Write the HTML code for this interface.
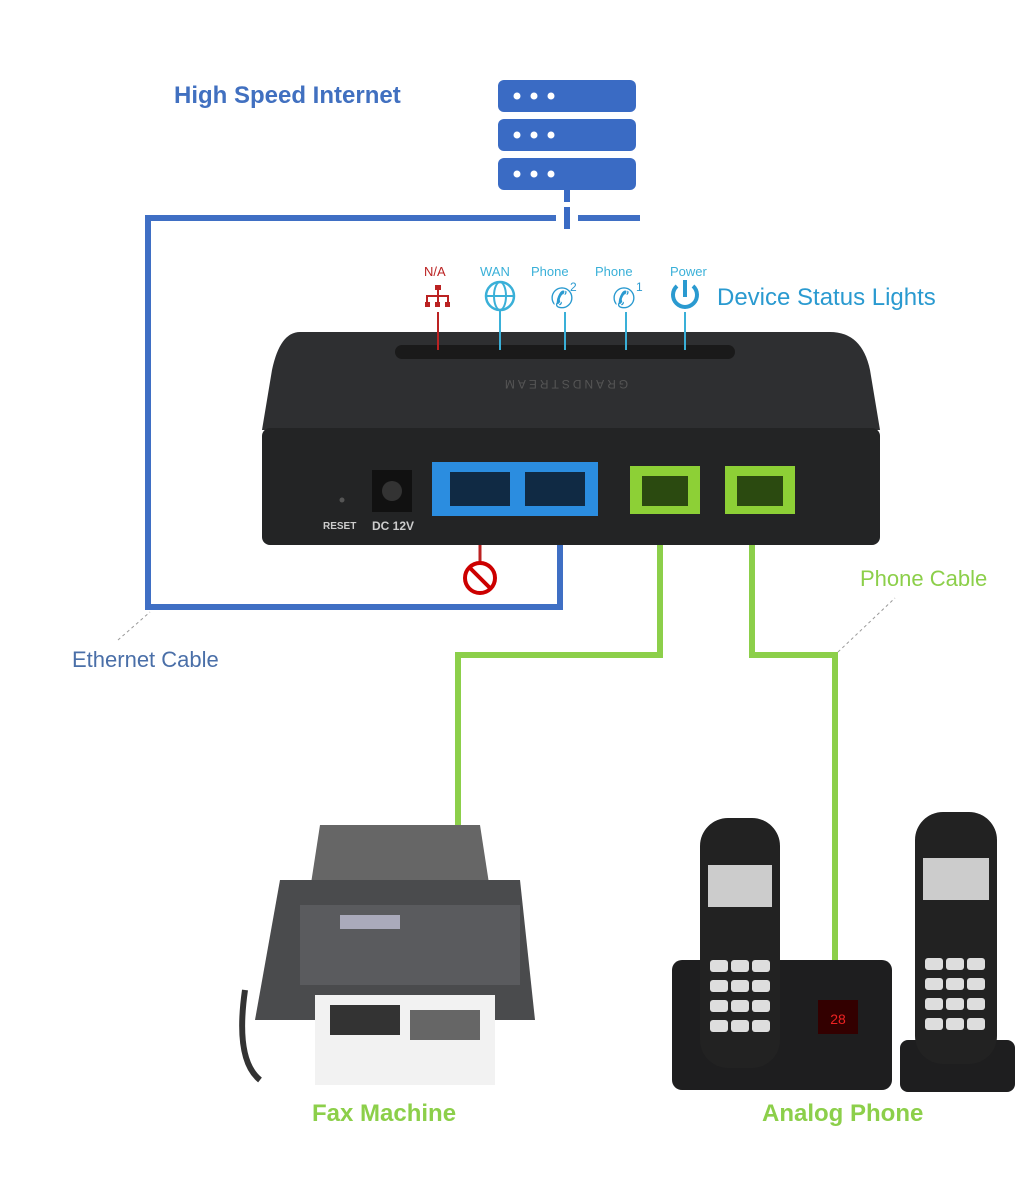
<!DOCTYPE html>
<html><head><meta charset="utf-8"><style>
html,body{margin:0;padding:0;background:#fff;}
#c{position:relative;width:1021px;height:1200px;overflow:hidden;font-family:"Liberation Sans",sans-serif;}
.t{position:absolute;white-space:nowrap;}
</style></head><body><div id="c">
<svg width="1021" height="1200" style="position:absolute;left:0;top:0">
<!-- server -->
<g fill="#3a6bc4">
<rect x="498" y="80" width="138" height="32" rx="6"/>
<rect x="498" y="119" width="138" height="32" rx="6"/>
<rect x="498" y="158" width="138" height="32" rx="6"/>
</g>
<g fill="#fff">
<circle cx="517" cy="96" r="3.5"/><circle cx="534" cy="96" r="3.5"/><circle cx="551" cy="96" r="3.5"/>
<circle cx="517" cy="135" r="3.5"/><circle cx="534" cy="135" r="3.5"/><circle cx="551" cy="135" r="3.5"/>
<circle cx="517" cy="174" r="3.5"/><circle cx="534" cy="174" r="3.5"/><circle cx="551" cy="174" r="3.5"/>
</g>
<rect x="564" y="190" width="6" height="12" fill="#3a6bc4"/>
<rect x="564" y="207" width="6" height="22" fill="#3a6bc4"/>
<!-- ethernet line -->
<polyline points="556,218 148,218 148,607 560,607 560,545" fill="none" stroke="#3f6fc4" stroke-width="6"/>
<line x1="578" y1="218" x2="640" y2="218" stroke="#3f6fc4" stroke-width="6"/>
<!-- green lines -->
<polyline points="660,545 660,655 458,655 458,830" fill="none" stroke="#8ccf4a" stroke-width="6"/>
<polyline points="752,545 752,655 835,655 835,960" fill="none" stroke="#8ccf4a" stroke-width="6"/>
<!-- dashed pointers -->
<line x1="118" y1="640" x2="150" y2="612" stroke="#999" stroke-dasharray="3,3"/>
<line x1="838" y1="652" x2="895" y2="598" stroke="#999" stroke-dasharray="3,3"/>
<!-- device -->
<path d="M300,332 L830,332 Q862,332 870,370 L880,430 L262,430 L272,370 Q280,332 300,332Z" fill="#2e2f31"/>
<rect x="262" y="428" width="618" height="117" rx="8" fill="#232425"/>
<rect x="395" y="345" width="340" height="14" rx="7" fill="#1a1a1a"/>
<text x="565" y="388" fill="#555" font-size="12" text-anchor="middle" transform="rotate(180 565 384)" letter-spacing="3">GRANDSTREAM</text>
<rect x="372" y="470" width="40" height="42" fill="#111"/>
<circle cx="392" cy="491" r="10" fill="#333"/>
<circle cx="342" cy="500" r="2.5" fill="#555"/>
<rect x="432" y="462" width="166" height="54" fill="#2b8de0"/>
<rect x="450" y="472" width="60" height="34" fill="#102a44"/>
<rect x="525" y="472" width="60" height="34" fill="#102a44"/>
<rect x="630" y="466" width="70" height="48" fill="#8dd036"/>
<rect x="642" y="476" width="46" height="30" fill="#2b4a10"/>
<rect x="725" y="466" width="70" height="48" fill="#8dd036"/>
<rect x="737" y="476" width="46" height="30" fill="#2b4a10"/>
<!-- status indicator lines -->
<line x1="438" y1="312" x2="438" y2="350" stroke="#b22" stroke-width="2"/>
<g stroke="#3ab0d8" stroke-width="2">
<line x1="500" y1="310" x2="500" y2="350"/><line x1="565" y1="312" x2="565" y2="350"/>
<line x1="626" y1="312" x2="626" y2="350"/><line x1="685" y1="312" x2="685" y2="350"/>
</g>
<!-- NA icon -->
<g fill="#b22"><rect x="435" y="285" width="6" height="5"/><rect x="425" y="302" width="5" height="5"/><rect x="435" y="302" width="5" height="5"/><rect x="445" y="302" width="5" height="5"/></g>
<path d="M438,290 V302 M427,302 V296 H448 V302" stroke="#b22" stroke-width="2" fill="none"/>
<circle cx="500" cy="296" r="14" fill="none" stroke="#3ab0d8" stroke-width="2.5"/>
<ellipse cx="500" cy="296" rx="6" ry="14" fill="none" stroke="#3ab0d8" stroke-width="2"/>
<line x1="486" y1="296" x2="514" y2="296" stroke="#3ab0d8" stroke-width="2"/>
<text x="562" y="308" font-size="28" fill="#2a9ad0" text-anchor="middle">✆</text>
<text x="624" y="308" font-size="28" fill="#2a9ad0" text-anchor="middle">✆</text>
<path d="M677,286 A12,12 0 1,0 693,286" fill="none" stroke="#2a9ad0" stroke-width="4"/>
<line x1="685" y1="280" x2="685" y2="297" stroke="#2a9ad0" stroke-width="4"/>
<!-- no sign -->
<line x1="480" y1="545" x2="480" y2="565" stroke="#b22" stroke-width="3"/>
<circle cx="480" cy="578" r="15" fill="none" stroke="#c00" stroke-width="4"/>
<line x1="470" y1="568" x2="490" y2="588" stroke="#c00" stroke-width="4"/>
<!-- fax machine -->
<path d="M320,825 L480,825 L490,890 L310,890Z" fill="#666"/>
<path d="M280,880 L520,880 L535,1020 L255,1020 Z" fill="#4a4b4d"/>
<rect x="300" y="905" width="220" height="80" fill="#5a5b5e"/>
<rect x="340" y="915" width="60" height="14" fill="#aab"/>
<rect x="315" y="995" width="180" height="90" fill="#f2f2f2"/>
<rect x="330" y="1005" width="70" height="30" fill="#333"/>
<rect x="410" y="1010" width="70" height="30" fill="#666"/>
<path d="M245,990 Q235,1060 260,1080" stroke="#333" stroke-width="6" fill="none"/>
<!-- phones -->
<rect x="672" y="960" width="220" height="130" rx="10" fill="#1e1e1f"/>
<rect x="700" y="818" width="80" height="250" rx="28" fill="#222"/>
<rect x="708" y="865" width="64" height="42" fill="#ccc"/>
<g fill="#ddd">
<rect x="710" y="960" width="18" height="12" rx="3"/><rect x="731" y="960" width="18" height="12" rx="3"/><rect x="752" y="960" width="18" height="12" rx="3"/>
<rect x="710" y="980" width="18" height="12" rx="3"/><rect x="731" y="980" width="18" height="12" rx="3"/><rect x="752" y="980" width="18" height="12" rx="3"/>
<rect x="710" y="1000" width="18" height="12" rx="3"/><rect x="731" y="1000" width="18" height="12" rx="3"/><rect x="752" y="1000" width="18" height="12" rx="3"/>
<rect x="710" y="1020" width="18" height="12" rx="3"/><rect x="731" y="1020" width="18" height="12" rx="3"/><rect x="752" y="1020" width="18" height="12" rx="3"/>
</g>
<rect x="818" y="1000" width="40" height="34" fill="#300"/>
<text x="838" y="1024" fill="#e22" font-size="14" text-anchor="middle">28</text>
<rect x="900" y="1040" width="115" height="52" rx="8" fill="#1e1e1f"/>
<rect x="915" y="812" width="82" height="252" rx="28" fill="#222"/>
<rect x="923" y="858" width="66" height="42" fill="#ccc"/>
<g fill="#ddd">
<rect x="925" y="958" width="18" height="12" rx="3"/><rect x="946" y="958" width="18" height="12" rx="3"/><rect x="967" y="958" width="18" height="12" rx="3"/>
<rect x="925" y="978" width="18" height="12" rx="3"/><rect x="946" y="978" width="18" height="12" rx="3"/><rect x="967" y="978" width="18" height="12" rx="3"/>
<rect x="925" y="998" width="18" height="12" rx="3"/><rect x="946" y="998" width="18" height="12" rx="3"/><rect x="967" y="998" width="18" height="12" rx="3"/>
<rect x="925" y="1018" width="18" height="12" rx="3"/><rect x="946" y="1018" width="18" height="12" rx="3"/><rect x="967" y="1018" width="18" height="12" rx="3"/>
</g>
</svg>
<div class="t" style="left:174px;top:82px;font-size:24px;font-weight:bold;color:#4170c0">High Speed Internet</div>
<div class="t" style="left:424px;top:264px;font-size:13px;color:#b22">N/A</div>
<div class="t" style="left:480px;top:264px;font-size:13px;color:#3ab0d8">WAN</div>
<div class="t" style="left:531px;top:264px;font-size:13px;color:#3ab0d8">Phone</div>
<div class="t" style="left:595px;top:264px;font-size:13px;color:#3ab0d8">Phone</div>
<div class="t" style="left:570px;top:280px;font-size:12px;color:#2a9ad0">2</div>
<div class="t" style="left:636px;top:280px;font-size:12px;color:#2a9ad0">1</div>
<div class="t" style="left:670px;top:264px;font-size:13px;color:#3ab0d8">Power</div>
<div class="t" style="left:717px;top:284px;font-size:24px;color:#2a9ad0">Device Status Lights</div>
<div class="t" style="left:323px;top:521px;font-size:10px;color:#ccc;font-weight:bold">RESET</div>
<div class="t" style="left:372px;top:519px;font-size:12px;color:#ccc;font-weight:bold">DC 12V</div>
<div class="t" style="left:860px;top:566px;font-size:22px;color:#8ccf4a">Phone Cable</div>
<div class="t" style="left:72px;top:647px;font-size:22px;color:#4a6fa8">Ethernet Cable</div>
<div class="t" style="left:312px;top:1100px;font-size:24px;font-weight:bold;color:#8ccf4a">Fax Machine</div>
<div class="t" style="left:762px;top:1100px;font-size:24px;font-weight:bold;color:#8ccf4a">Analog Phone</div>
</div></body></html>
